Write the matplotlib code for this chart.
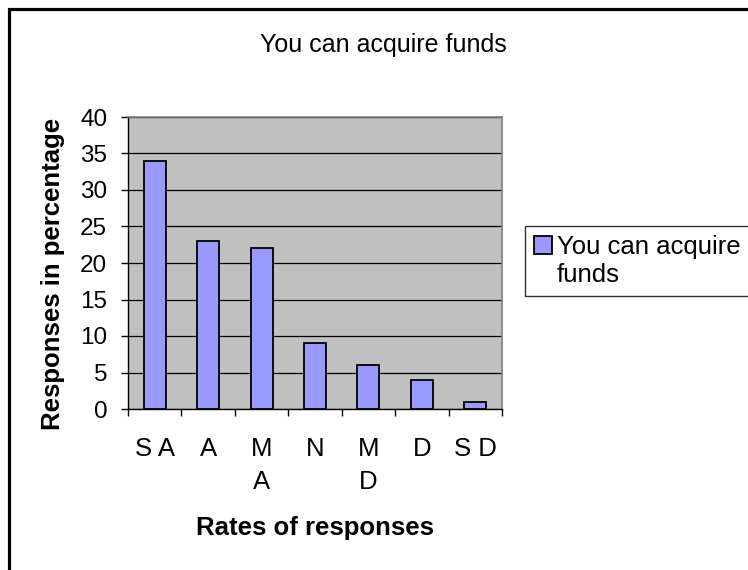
import matplotlib
matplotlib.use("Agg")
import matplotlib.pyplot as plt
from matplotlib.patches import Rectangle, Patch

categories = ["S A", "A", "M\nA", "N", "M\nD", "D", "S D"]
values = [34, 23, 22, 9, 6, 4, 1]
series_name = "You can acquire funds"
yticks = [0, 5, 10, 15, 20, 25, 30, 35, 40]

W, H = 748, 570
plt.rcParams['font.family'] = ['Liberation Sans', 'DejaVu Sans']
fig = plt.figure(figsize=(W / 100, H / 100), dpi=100)

ax = fig.add_axes([128 / W, 1 - 409 / H, (502 - 128) / W, (409 - 117) / H])
ax.set_facecolor("#C0C0C0")

x = [i + 0.5 for i in range(len(values))]
bars = ax.bar(x, values, width=0.41, color="#9999FF", edgecolor="black",
              linewidth=1.3, zorder=3)

ax.set_xlim(0, len(values))
ax.set_ylim(0, 40)
ax.set_yticks(yticks)
ax.yaxis.grid(True, color="black", linewidth=0.9, zorder=1)
ax.set_axisbelow(True)

# tick marks at category boundaries, labels at centers
ax.set_xticks(range(len(values) + 1))
ax.set_xticklabels([])
ax.set_xticks(x, minor=True)
ax.set_xticklabels(categories, minor=True, fontsize=18.5, linespacing=1.5, va="top")
ax.tick_params(axis="x", which="minor", length=0, pad=20)
ax.tick_params(axis="x", which="major", length=5, width=1, direction="out")
ax.tick_params(axis="y", length=5, width=1, direction="out", pad=10, labelsize=17.5)

for s in ["top", "right"]:
    ax.spines[s].set_color("#808080")
    ax.spines[s].set_linewidth(1.2)
for s in ["left", "bottom"]:
    ax.spines[s].set_color("black")
    ax.spines[s].set_linewidth(1.0)

fig.text(383 / W, 1 - 45 / H, series_name, ha="center", va="center", fontsize=18)
fig.text(315 / W, 1 - 528 / H, "Rates of responses", ha="center", va="center",
         fontsize=18.5, fontweight="bold")
fig.text(53 / W, 1 - 274 / H, "Responses in percentage", ha="center", va="center",
         rotation=90, fontsize=18.5, fontweight="bold")

words = series_name.split(" ")
leg = fig.legend([bars, Patch(visible=False)],
                 [" ".join(words[:3]), " ".join(words[3:])],
                 loc="upper left", bbox_to_anchor=(525 / W, 1 - 226 / H),
                 fontsize=18.5, frameon=True, fancybox=False, shadow=False,
                 handlelength=0.7, handleheight=0.7, handletextpad=0.2,
                 borderpad=0.35, borderaxespad=0, labelspacing=0.15)
leg.get_frame().set_edgecolor("black")
leg.get_frame().set_linewidth(1.0)

fig.patches.append(Rectangle((8.5 / W, -0.2), 1.5, 1.2 - 8.5 / H,
                             transform=fig.transFigure, fill=False,
                             edgecolor="black", linewidth=2.3))

fig.savefig("out.png", dpi=100)
